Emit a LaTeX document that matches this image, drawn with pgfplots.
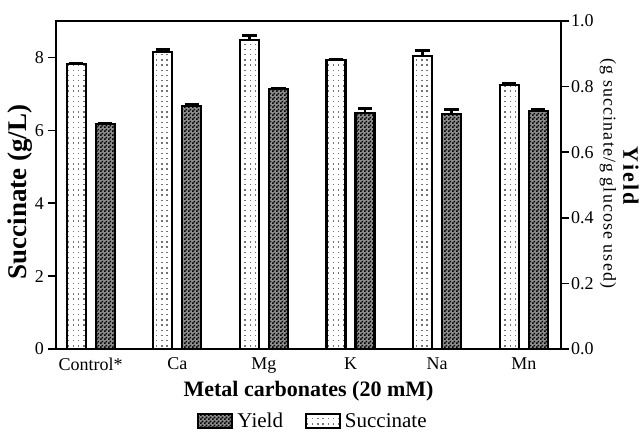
\documentclass[border=0pt]{standalone}
\usepackage{fontspec}
\setmainfont{Liberation Serif}
\usepackage{pgfplots}
\pgfplotsset{compat=1.18}
\usetikzlibrary{patterns}
\pgfdeclarepatternformonly{checker}{\pgfpointorigin}{\pgfqpoint{2pt}{2pt}}{\pgfqpoint{2pt}{2pt}}{%
  \pgfpathrectangle{\pgfpointorigin}{\pgfqpoint{1pt}{1pt}}%
  \pgfpathrectangle{\pgfqpoint{1pt}{1pt}}{\pgfqpoint{1pt}{1pt}}%
  \pgfusepath{fill}}
\pgfdeclarepatternformonly{finedots}{\pgfqpoint{-0.5pt}{-0.5pt}}{\pgfqpoint{3pt}{3pt}}{\pgfqpoint{2.6pt}{2.6pt}}{%
  \pgfpathrectangle{\pgfpointorigin}{\pgfqpoint{0.7pt}{0.7pt}}%
  \pgfusepath{fill}}
\pgfplotsset{
  common/.style={
    width=252.5pt, height=164pt, scale only axis,
    xmin=-0.4, xmax=5.43,
    axis line style={line width=1pt},
    tick style={line width=0.8pt, black},
    major tick length=4pt,
    tick align=outside,
    /pgf/number format/assume math mode=true,
    ticklabel style={font=\fontsize{9}{9}\selectfont},
    ybar, bar width=9.5pt,
  },
}
\begin{document}
\begin{tikzpicture}
\begin{axis}[common,
  ymin=0, ymax=9,
  ytick={0,2,4,6,8},
  ytick pos=left,
  xtick={0,1,2,3,4,5},
  xticklabels={Control*,Ca,Mg,K,Na,Mn},
  x tick style={draw=none},
  xticklabel style={yshift=3pt},
  yticklabel style={xshift=1.5pt},
  ylabel={\textbf{Succinate (g/L)}},
  ylabel style={at={(axis description cs:-0.0713,0.479)}, anchor=center, font=\fontsize{13.5}{13.5}\selectfont},
  xlabel={\textbf{Metal carbonates (20 mM)}},
  xlabel style={at={(axis description cs:0.5,-0.128)}, anchor=center, font=\fontsize{11}{11}\selectfont},
]
\addplot[bar shift=-7.25pt, draw=black, line width=1.1pt, pattern=finedots, pattern color=black!55,
  error bars/.cd, y dir=plus, y explicit,
  error bar style={line width=1.2pt, black},
  error mark options={rotate=90, mark size=3.6pt, line width=1.4pt, black}]
coordinates {
 (0,7.82) +- (0,0.03)
 (1,8.14) +- (0,0.08)
 (2,8.48) +- (0,0.12)
 (3,7.92) +- (0,0.04)
 (4,8.05) +- (0,0.13)
 (5,7.24) +- (0,0.06)
};
\coordinate (o) at (rel axis cs:0,0);
\end{axis}
\begin{axis}[common,
  clip=false,
  ymin=0, ymax=1,
  ytick={0,0.2,0.4,0.6,0.8,1.0},
  axis y line*=right,
  axis x line=none,
  yticklabel style={xshift=-2.5pt, /pgf/number format/fixed, /pgf/number format/fixed zerofill, /pgf/number format/precision=1},
  ylabel={\textbf{Yield}},
  ylabel style={at={(axis description cs:1.1386,0.524)}, anchor=center, rotate=180, font=\fontsize{11}{11}\selectfont\addfontfeatures{LetterSpace=10}},
  legend style={at={(0.511,-0.2226)}, anchor=center, draw=none, fill=none,
    legend columns=2, font=\fontsize{10.5}{10.5}\selectfont,
    /tikz/every even column/.append style={column sep=9pt}},
  legend image code/.code={\draw[#1, line width=1pt] (0pt,-3pt) rectangle (17pt,4pt);},
]
\addplot[bar shift=7.25pt, draw=black, line width=1.1pt, fill=black!45, postaction={pattern=checker, pattern color=black},
  error bars/.cd, y dir=plus, y explicit,
  error bar style={line width=1.2pt, black},
  error mark options={rotate=90, mark size=3.6pt, line width=1.4pt, black}]
coordinates {
 (0,0.686) +- (0,0.003)
 (1,0.741) +- (0,0.006)
 (2,0.793) +- (0,0.003)
 (3,0.719) +- (0,0.014)
 (4,0.717) +- (0,0.013)
 (5,0.726) +- (0,0.003)
};
\addlegendentry{Yield}
\addlegendimage{draw=black, pattern=finedots, pattern color=black!55}
\addlegendentry{Succinate}
\node[rotate=-90, anchor=center, font=\fontsize{9}{9}\selectfont\addfontfeatures{LetterSpace=6}]
  at (axis description cs:1.093,0.535) {(g succinate/g glucose used)};
\end{axis}
\pgfresetboundingbox
\path[use as bounding box] ([shift={(-28pt,-43pt)}]o) rectangle ([shift={(293pt,174.5pt)}]o);
\end{tikzpicture}
\end{document}
